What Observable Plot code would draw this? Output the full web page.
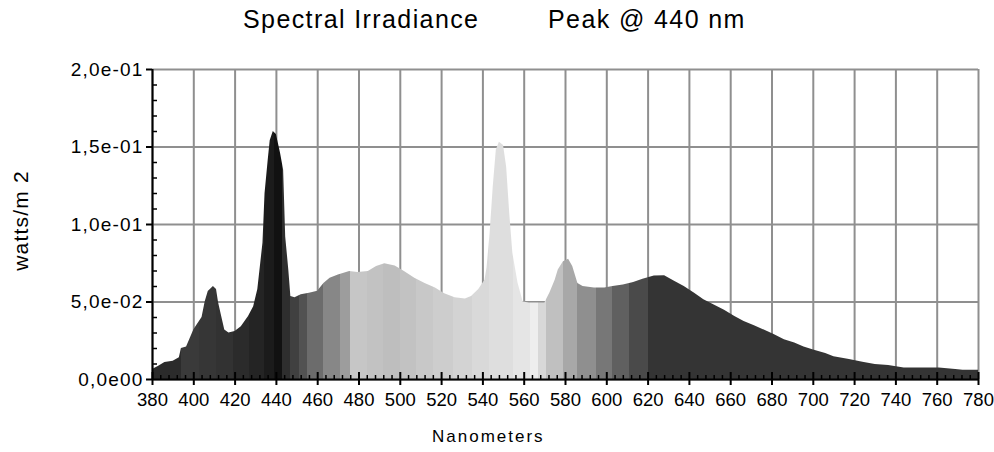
<!DOCTYPE html>
<html><head><meta charset="utf-8">
<script src="https://cdn.jsdelivr.net/npm/d3@7"></script>
<script src="https://cdn.jsdelivr.net/npm/@observablehq/plot@0.6"></script>
<style>
html,body{margin:0;padding:0;background:#fff;}
#wrap{width:994px;height:452px;position:relative;overflow:hidden;font-family:"Liberation Sans",Arial,sans-serif;color:#000;}
#title{height:50px;position:relative;font-size:25px;line-height:25px;letter-spacing:1.4px;}
#title span{position:absolute;top:7px;white-space:nowrap;}
#xlabel{position:absolute;left:432px;top:428px;font-size:17px;line-height:17px;letter-spacing:2px;white-space:nowrap;}
#chart svg{display:block;}
.spec g[aria-label="y-axis tick label"] text{letter-spacing:1.2px;}
.spec g[aria-label="text"] text{letter-spacing:1.2px;}
</style>
</head><body>
<div id="wrap">
  <div id="title"><span style="left:243px">Spectral Irradiance</span><span style="left:548px">Peak @ 440 nm</span></div>
  <div id="chart"></div>
  <div id="xlabel">Nanometers</div>
</div>
<script>
// wavelength (nm) and spectral irradiance (watts/m2)
const wavelengths = [380,383,386,390,393,394,396.5,398,400,401.5,404,405.5,407,409.5,411,412,413.5,415,417,420,423,426.5,429,431,433.5,434.5,436,437,438.5,440,442,443.5,444.5,446,447,449,452,456,460,463,466,470,475.5,479.5,484.5,488.5,492.5,497.5,502,507,512,517,521.5,526.5,531.5,534.5,538,541,542,543.5,545,546.5,548,550,551.5,553,554.5,557,559.5,562.5,570,572.5,575,576.5,579,581.5,583.5,586,588.5,594,599,603,608,613,617.5,623,628,633,637.5,642.5,647,652,657,662,666.5,671.5,676.5,681,686,691,695.5,700.5,706,710,717.5,724,730,736.5,744,753,761,769,772.5,780];
const irradiance = [0.0064,0.0086,0.011,0.0118,0.014,0.020,0.021,0.0257,0.032,0.035,0.040,0.050,0.0568,0.060,0.058,0.0495,0.0407,0.032,0.030,0.031,0.034,0.0407,0.047,0.058,0.088,0.120,0.141,0.154,0.160,0.158,0.146,0.135,0.092,0.0707,0.0536,0.0527,0.0547,0.0557,0.057,0.062,0.0654,0.0675,0.0697,0.069,0.0697,0.0729,0.0746,0.0733,0.0697,0.0654,0.062,0.059,0.0553,0.0527,0.052,0.0536,0.058,0.064,0.072,0.0943,0.124,0.148,0.153,0.151,0.137,0.107,0.0815,0.0622,0.050,0.0493,0.0493,0.056,0.064,0.0707,0.076,0.0776,0.0729,0.062,0.060,0.059,0.059,0.060,0.061,0.0626,0.0647,0.0667,0.0669,0.0632,0.060,0.0557,0.0514,0.048,0.0446,0.0407,0.0375,0.0347,0.0317,0.029,0.0257,0.0236,0.021,0.0189,0.0167,0.0146,0.0129,0.0111,0.0096,0.009,0.0075,0.0075,0.0075,0.0064,0.006,0.006];

// tick values and labels
const xTicks = [380,400,420,440,460,480,500,520,540,560,580,600,620,640,660,680,700,720,740,760,780];
const xTickLabels = ["380","400","420","440","460","480","500","520","540","560","580","600","620","640","660","680","700","720","740","760","780"];
const yTicks = [0,0.05,0.1,0.15,0.2];
const yTickLabels = ["0,0e00","5,0e-02","1,0e-01","1,5e-01","2,0e-01"];
const xMinor = d3.range(384, 780, 4).filter(d => d % 20 !== 0);
const yMinor = d3.range(1, 20).map(k => k / 100).filter((d, i) => (i + 1) % 5 !== 0);

// grey band edges (nm) of the wavelength-coloured fill
const bandEdges = [380,394,403,411,419,427,434,439,443,447,451,455,463,471,476,484,492,500,508,516,526,535,543,555,563,567,571,579,586,595,603,611,620,780];
const bandGreys = ["#2b2b2b","#3a3a3a","#363636","#323232","#2b2b2b","#242424","#1b1b1b","#111111","#2e2e2e","#404040","#525252","#6c6c6c","#878787","#9d9d9d","#c6c6c6","#c2c2c2","#bebebe","#c2c2c2","#c8c8c8","#cdcdcd","#d3d3d3","#d9d9d9","#dedede","#e5e5e5","#eeeeee","#d8d8d8","#c0c0c0","#a8a8a8","#8f8f8f","#777777","#606060","#4a4a4a","#343434"];

const data = wavelengths.map((nm, i) => ({nm, v: irradiance[i]}));
const xLab = new Map(xTicks.map((t, i) => [t, xTickLabels[i]]));
const yLab = new Map(yTicks.map((t, i) => [t, yTickLabels[i]]));
const GRID = "#8f8f8f";

const chart = Plot.plot({
  width: 994, height: 362,
  marginTop: 19, marginBottom: 33, marginLeft: 152, marginRight: 16,
  className: "spec",
  style: {fontFamily: "Liberation Sans, Arial, sans-serif", color: "#000", background: "#fff", overflow: "visible"},
  x: {domain: [380, 780], axis: null},
  y: {domain: [0, 0.2], axis: null},
  marks: [
    Plot.gridX(xTicks, {stroke: GRID, strokeOpacity: 1, strokeWidth: 2}),
    Plot.gridY(yTicks, {stroke: GRID, strokeOpacity: 1, strokeWidth: 2}),
    Plot.areaY(data, {x: "nm", y: "v", fill: "url(#bands)"}),
    Plot.ruleX(xMinor, {y1: () => 0, y2: () => 0, insetTop: -4, stroke: "#000", strokeWidth: 1.5}),
    Plot.ruleX(xTicks, {y1: () => 0, y2: () => 0, insetTop: -7, insetBottom: -6, stroke: "#000", strokeWidth: 2}),
    Plot.ruleY(yMinor, {x1: () => 380, x2: () => 380, insetRight: -5, stroke: "#000", strokeWidth: 1.5}),
    Plot.ruleY(yTicks, {x1: () => 380, x2: () => 380, insetLeft: -6, stroke: "#000", strokeWidth: 2}),
    Plot.ruleY([0], {stroke: "#000", strokeWidth: 2}),
    Plot.ruleX([380], {stroke: "#000", strokeWidth: 2}),
    Plot.axisX(xTicks, {tickSize: 0, tickPadding: 13, tickFormat: d => xLab.get(d), fontSize: 18.5, label: null}),
    Plot.axisY(yTicks, {tickSize: 0, tickPadding: 9, tickFormat: d => yLab.get(d), fontSize: 19, label: null}),
    Plot.text(["watts/m 2"], {frameAnchor: "left", textAnchor: "middle", lineAnchor: "middle", rotate: -90, dx: -131, dy: -4, fontSize: 21})
  ]
});

// band gradient for the area fill, positioned with the x scale
const ns = "http://www.w3.org/2000/svg";
const xs = chart.scale("x");
const defs = document.createElementNS(ns, "defs");
const grad = document.createElementNS(ns, "linearGradient");
grad.setAttribute("id", "bands");
grad.setAttribute("gradientUnits", "userSpaceOnUse");
grad.setAttribute("x1", xs.apply(380));
grad.setAttribute("x2", xs.apply(780));
grad.setAttribute("y1", 0);
grad.setAttribute("y2", 0);
const span = 780 - 380;
bandGreys.forEach((c, i) => {
  [bandEdges[i], bandEdges[i + 1]].forEach(e => {
    const s = document.createElementNS(ns, "stop");
    s.setAttribute("offset", (e - 380) / span);
    s.setAttribute("stop-color", c);
    grad.appendChild(s);
  });
});
defs.appendChild(grad);
chart.insertBefore(defs, chart.firstChild);
document.getElementById("chart").appendChild(chart);
</script>
</body></html>
